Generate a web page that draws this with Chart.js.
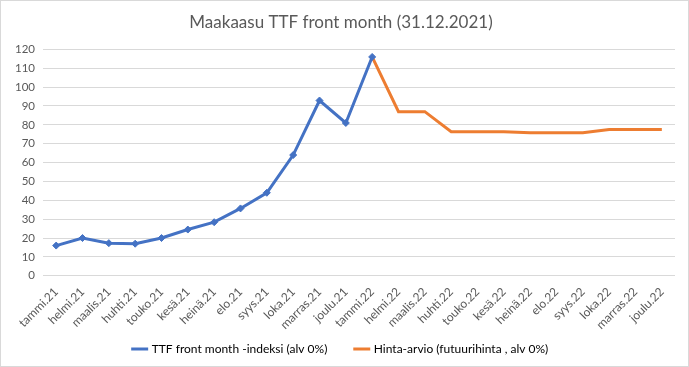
<!DOCTYPE html>
<html>
<head>
<meta charset="utf-8">
<script src="https://cdn.jsdelivr.net/npm/chart.js@4"></script>
<style>
  body { margin: 0; background: #fff; }
  #wrap { width: 687px; height: 365px; border: 1px solid #d9d9d9; }
</style>
</head>
<body>
<div id="wrap"><canvas id="myChart" width="687" height="365"></canvas></div>
<script>
const months = ["tammi.21", "helmi.21", "maalis.21", "huhti.21", "touko.21", "kesä.21", "heinä.21", "elo.21", "syys.21", "loka.21", "marras.21", "joulu.21",
  "tammi.22", "helmi.22", "maalis.22", "huhti.22", "touko.22", "kesä.22", "heinä.22", "elo.22", "syys.22", "loka.22", "marras.22", "joulu.22"];
const ttfIndex = [16, 20, 17.3, 17, 20, 24.5, 28.4, 35.7, 44, 64, 92.9, 81, 116,
  null, null, null, null, null, null, null, null, null, null, null];
const futures = [null, null, null, null, null, null, null, null, null, null, null, null,
  116, 87, 87, 76.4, 76.4, 76.4, 75.8, 75.8, 75.8, 77.5, 77.5, 77.5];

const font = "Lato, 'Open Sans', sans-serif";
const grey = "#595959";

const data = {
  labels: months,
  datasets: [{
    label: "TTF front month -indeksi (alv 0%)",
    data: ttfIndex,
    borderColor: "#4472c4",
    backgroundColor: "#4472c4",
    borderWidth: 3,
    pointStyle: "rectRot",
    pointRadius: 3.5,
    pointBorderWidth: 1,
    tension: 0
  }, {
    label: "Hinta-arvio (futuurihinta , alv 0%)",
    data: futures,
    borderColor: "#ed7d31",
    backgroundColor: "#ed7d31",
    borderWidth: 3,
    pointRadius: 0,
    tension: 0
  }]
};

const config = {
  type: 'line',
  data: data,
  options: {
    responsive: false,
    animation: false,
    layout: { padding: { left: 6, right: 13, top: 0, bottom: 1 } },
    plugins: {
      title: {
        display: true,
        text: "Maakaasu TTF front month (31.12.2021)",
        color: grey,
        font: { family: font, size: 17, weight: 'normal' },
        padding: { top: 11, bottom: 17 }
      },
      legend: {
        position: 'bottom',
        labels: {
          color: grey,
          font: { family: font, size: 12 },
          usePointStyle: true,
          pointStyle: 'line',
          boxWidth: 28,
          padding: 10,
          generateLabels: chart => chart.data.datasets.map((ds, i) => ({
            text: i == 0 ? ds.label + "      " : ds.label,
            fillStyle: ds.borderColor,
            strokeStyle: ds.borderColor,
            lineWidth: 3,
            pointStyle: 'line',
            datasetIndex: i
          }))
        }
      },
      tooltip: { enabled: false }
    },
    scales: {
      x: {
        offset: true,
        grid: { display: false },
        border: { display: false },
        afterFit: scale => { scale.paddingLeft = 0; },
        ticks: {
          color: grey,
          font: { family: font, size: 12 },
          maxRotation: 45,
          minRotation: 45,
          autoSkip: false,
          padding: 1
        }
      },
      y: {
        min: 0,
        max: 120,
        ticks: {
          stepSize: 10,
          color: grey,
          font: { family: font, size: 11.5 },
          padding: 8
        },
        grid: { color: "#d9d9d9", drawTicks: false },
        border: { display: false }
      }
    }
  }
};

const myChart = new Chart(document.getElementById('myChart'), config);
</script>
</body>
</html>
